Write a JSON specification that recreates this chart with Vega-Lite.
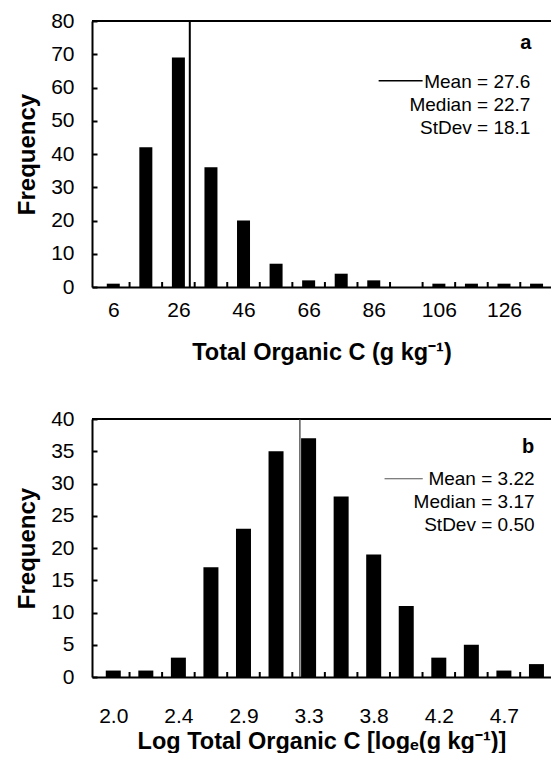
{
  "$schema": "https://vega.github.io/schema/vega-lite/v6.json",
  "padding": {"left": 15, "top": 10, "right": 0, "bottom": 0},
  "background": "white",
  "bounds": "flush",
  "spacing": 132,
  "config": {
    "view": {"stroke": null},
    "font": "Liberation Sans",
    "axis": {
      "labelFont": "Liberation Sans",
      "titleFont": "Liberation Sans",
      "labelColor": "black",
      "titleColor": "black",
      "domainColor": "black",
      "tickColor": "black",
      "grid": false,
      "labelFontSize": 21,
      "labelOverlap": false,
      "titleFontSize": 23.5,
      "titleFontWeight": "bold",
      "domainWidth": 2
    },
    "axisY": {
      "tickCount": 9,
      "labelOverlap": false,
      "labelSeparation": -40,
      "tickSize": -5,
      "tickWidth": 2,
      "labelPadding": 23,
      "titlePadding": 11,
      "titleFontSize": 24
    }
  },
  "vconcat": [
    {
      "width": 459,
      "height": 266,
      "layer": [
        {
          "data": {"values": [
            {"toc": 6, "frequency": 1},
            {"toc": 16, "frequency": 42},
            {"toc": 26, "frequency": 69},
            {"toc": 36, "frequency": 36},
            {"toc": 46, "frequency": 20},
            {"toc": 56, "frequency": 7},
            {"toc": 66, "frequency": 2},
            {"toc": 76, "frequency": 4},
            {"toc": 86, "frequency": 2},
            {"toc": 96, "frequency": 0},
            {"toc": 106, "frequency": 1},
            {"toc": 116, "frequency": 1},
            {"toc": 126, "frequency": 1},
            {"toc": 136, "frequency": 1}
          ]},
          "mark": {"type": "bar", "color": "black", "size": 13},
          "encoding": {
            "x": {
              "field": "toc", "type": "quantitative",
              "scale": {"domain": [1, 138.9], "nice": false, "zero": false},
              "axis": {
                "title": "Total Organic C (g kg⁻¹)",
                "values": [6, 26, 46, 66, 86, 106, 126],
                "ticks": false,
                "labelOverlap": false,
                "labelPadding": 12,
                "titlePadding": 20
              }
            },
            "y": {
              "field": "frequency", "type": "quantitative",
              "scale": {"domain": [0, 80], "nice": false},
              "axis": {
                "title": "Frequency",
                "values": [0, 10, 20, 30, 40, 50, 60, 70, 80],
                "labelOverlap": false
              }
            }
          }
        },
        {
          "data": {"values": [
            {"edge": 11}, {"edge": 21}, {"edge": 31}, {"edge": 41}, {"edge": 51},
            {"edge": 61}, {"edge": 71}, {"edge": 81}, {"edge": 91}, {"edge": 101},
            {"edge": 111}, {"edge": 121}, {"edge": 131}
          ]},
          "mark": {"type": "rule", "color": "black", "strokeWidth": 2},
          "encoding": {
            "x": {"field": "edge", "type": "quantitative"},
            "y": {"datum": 0},
            "y2": {"datum": 1.5}
          }
        },
        {
          "data": {"values": [{"border": 80}]},
          "mark": {"type": "rule", "color": "black", "strokeWidth": 2},
          "encoding": {"y": {"field": "border", "type": "quantitative"}}
        },
        {
          "data": {"values": [{"mean_line": 29.5}]},
          "mark": {"type": "rule", "color": "black", "strokeWidth": 2},
          "encoding": {"x": {"field": "mean_line", "type": "quantitative"}}
        },
        {
          "data": {"values": [{"key": "mean"}]},
          "mark": {"type": "rule", "color": "black", "strokeWidth": 1.5},
          "encoding": {
            "x": {"datum": 87.5},
            "x2": {"datum": 101},
            "y": {"datum": 62}
          }
        },
        {
          "data": {"values": [{"lines": ["Mean = 27.6", "Median  = 22.7", "StDev = 18.1"]}]},
          "mark": {"type": "text", "align": "right", "baseline": "top", "fontSize": 19, "lineHeight": 23, "color": "black"},
          "encoding": {
            "text": {"field": "lines"},
            "x": {"datum": 134.1},
            "y": {"datum": 64.4}
          }
        },
        {
          "data": {"values": [{"panel": "a"}]},
          "mark": {"type": "text", "align": "right", "baseline": "middle", "fontSize": 20, "fontWeight": "bold", "color": "black"},
          "encoding": {
            "text": {"field": "panel"},
            "x": {"datum": 134.4},
            "y": {"datum": 73.4}
          }
        }
      ]
    },
    {
      "width": 459,
      "height": 258,
      "layer": [
        {
          "data": {"values": [
            {"log_toc": 2.0, "frequency": 1},
            {"log_toc": 2.225, "frequency": 1},
            {"log_toc": 2.45, "frequency": 3},
            {"log_toc": 2.675, "frequency": 17},
            {"log_toc": 2.9, "frequency": 23},
            {"log_toc": 3.125, "frequency": 35},
            {"log_toc": 3.35, "frequency": 37},
            {"log_toc": 3.575, "frequency": 28},
            {"log_toc": 3.8, "frequency": 19},
            {"log_toc": 4.025, "frequency": 11},
            {"log_toc": 4.25, "frequency": 3},
            {"log_toc": 4.475, "frequency": 5},
            {"log_toc": 4.7, "frequency": 1},
            {"log_toc": 4.925, "frequency": 2}
          ]},
          "mark": {"type": "bar", "color": "black", "size": 15},
          "encoding": {
            "x": {
              "field": "log_toc", "type": "quantitative",
              "scale": {"domain": [1.8875, 4.991], "nice": false, "zero": false},
              "axis": {
                "title": "Log Total Organic C [logₑ(g kg⁻¹)]",
                "values": [2.0, 2.45, 2.9, 3.35, 3.8, 4.25, 4.7],
                "labelExpr": "format(floor(datum.value * 10 + 0.001) / 10, '.1f')",
                "ticks": false,
                "labelOverlap": false,
                "labelPadding": 28,
                "titlePadding": 3
              }
            },
            "y": {
              "field": "frequency", "type": "quantitative",
              "scale": {"domain": [0, 40], "nice": false},
              "axis": {
                "title": "Frequency",
                "values": [0, 5, 10, 15, 20, 25, 30, 35, 40],
                "labelOverlap": false
              }
            }
          }
        },
        {
          "data": {"values": [
            {"edge": 2.1125}, {"edge": 2.3375}, {"edge": 2.5625}, {"edge": 2.7875}, {"edge": 3.0125},
            {"edge": 3.2375}, {"edge": 3.4625}, {"edge": 3.6875}, {"edge": 3.9125}, {"edge": 4.1375},
            {"edge": 4.3625}, {"edge": 4.5875}, {"edge": 4.8125}
          ]},
          "mark": {"type": "rule", "color": "black", "strokeWidth": 2},
          "encoding": {
            "x": {"field": "edge", "type": "quantitative"},
            "y": {"datum": 0},
            "y2": {"datum": 0.78}
          }
        },
        {
          "data": {"values": [{"border": 40}]},
          "mark": {"type": "rule", "color": "black", "strokeWidth": 2},
          "encoding": {"y": {"field": "border", "type": "quantitative"}}
        },
        {
          "data": {"values": [{"mean_line": 3.29}]},
          "mark": {"type": "rule", "color": "#333333", "strokeWidth": 1.2},
          "encoding": {"x": {"field": "mean_line", "type": "quantitative"}}
        },
        {
          "data": {"values": [{"key": "mean"}]},
          "mark": {"type": "rule", "color": "#555555", "strokeWidth": 1.2},
          "encoding": {
            "x": {"datum": 3.875},
            "x2": {"datum": 4.139},
            "y": {"datum": 30.74}
          }
        },
        {
          "data": {"values": [{"lines": ["Mean = 3.22", "Median  = 3.17", "StDev = 0.50"]}]},
          "mark": {"type": "text", "align": "right", "baseline": "top", "fontSize": 19, "lineHeight": 23, "color": "black"},
          "encoding": {
            "text": {"field": "lines"},
            "x": {"datum": 4.912},
            "y": {"datum": 32.1}
          }
        },
        {
          "data": {"values": [{"panel": "b"}]},
          "mark": {"type": "text", "align": "right", "baseline": "middle", "fontSize": 20, "fontWeight": "bold", "color": "black"},
          "encoding": {
            "text": {"field": "panel"},
            "x": {"datum": 4.91},
            "y": {"datum": 35.7}
          }
        }
      ]
    }
  ]
}
